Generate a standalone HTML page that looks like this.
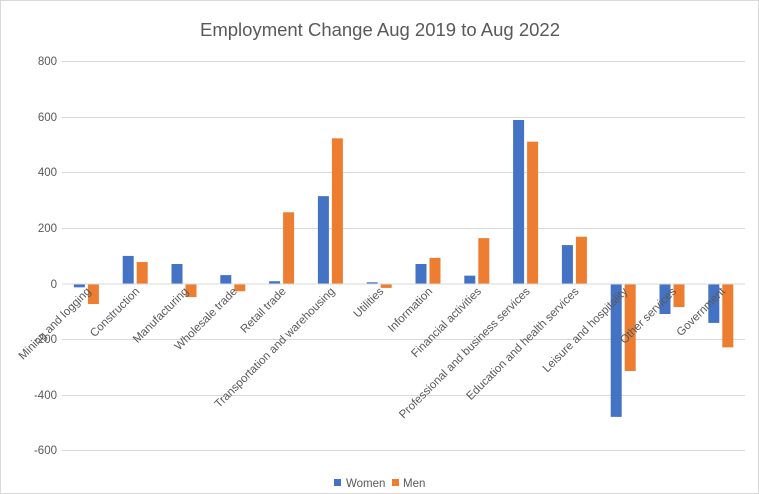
<!DOCTYPE html>
<html><head><meta charset="utf-8"><style>
html,body{margin:0;padding:0;background:#fff}
svg{display:block}
text{font-family:"Liberation Sans",Arial,sans-serif;fill:#595959}
</style></head><body>
<svg width="759" height="494" xmlns="http://www.w3.org/2000/svg">
<rect x="0.5" y="0.5" width="758" height="493" fill="#fff" stroke="#d9d9d9"/>
<text x="380" y="36" font-size="18.5" text-anchor="middle">Employment Change Aug 2019 to Aug 2022</text>
<g stroke="#d9d9d9" stroke-width="1">
<line x1="62" x2="745" y1="61.5" y2="61.5"/>
<line x1="62" x2="745" y1="117.5" y2="117.5"/>
<line x1="62" x2="745" y1="172.5" y2="172.5"/>
<line x1="62" x2="745" y1="228.5" y2="228.5"/>
<line x1="62" x2="745" y1="339.5" y2="339.5"/>
<line x1="62" x2="745" y1="395.5" y2="395.5"/>
<line x1="62" x2="745" y1="450.5" y2="450.5"/>
</g>
<g font-size="11.5" text-anchor="end">
<text x="57" y="65">800</text>
<text x="57" y="121">600</text>
<text x="57" y="176">400</text>
<text x="57" y="232">200</text>
<text x="57" y="288">0</text>
<text x="57" y="343">-200</text>
<text x="57" y="399">-400</text>
<text x="57" y="454">-600</text>
</g>
<g id="bars"></g>
<line x1="62" x2="745" y1="284" y2="284" stroke="#d9d9d9"/>
<g id="labels" font-size="11.5" text-anchor="end"></g>
<rect x="334" y="479" width="7" height="7" fill="#4472c4"/>
<text x="346" y="487" font-size="11.5">Women</text>
<rect x="392" y="479" width="7" height="7" fill="#ed7d31"/>
<text x="403" y="487" font-size="11.5">Men</text>
<script>
var cats=["Mining and logging","Construction","Manufacturing","Wholesale trade","Retail trade","Transportation and warehousing","Utilities","Information","Financial activities","Professional and business services","Education and health services","Leisure and hospitality","Other services","Government"];
var w=[-12,101,72,32,10,316,6,72,30,590,140,-478,-108,-140];
var m=[-72,79,-47,-26,258,524,-14,94,165,512,170,-313,-83,-228];
var ns="http://www.w3.org/2000/svg",b=document.getElementById("bars"),l=document.getElementById("labels");
var s=55.6/200,z=284;
function bar(x,v,c){var r=document.createElementNS(ns,"rect");var h=Math.abs(v)*s;r.setAttribute("x",x);r.setAttribute("width",11);r.setAttribute("y",v>=0?z-h:z);r.setAttribute("height",h);r.setAttribute("fill",c);b.appendChild(r);}
for(var i=0;i<14;i++){var c=86.4+i*48.8;bar(c-12.5,w[i],"#4472c4");bar(c+1.5,m[i],"#ed7d31");
var t=document.createElementNS(ns,"text");var tx=c+5,ty=292;t.setAttribute("x",tx);t.setAttribute("y",ty);t.setAttribute("transform","rotate(-45 "+tx+" "+ty+")");t.textContent=cats[i];l.appendChild(t);}
</script>
</svg>
</body></html>
